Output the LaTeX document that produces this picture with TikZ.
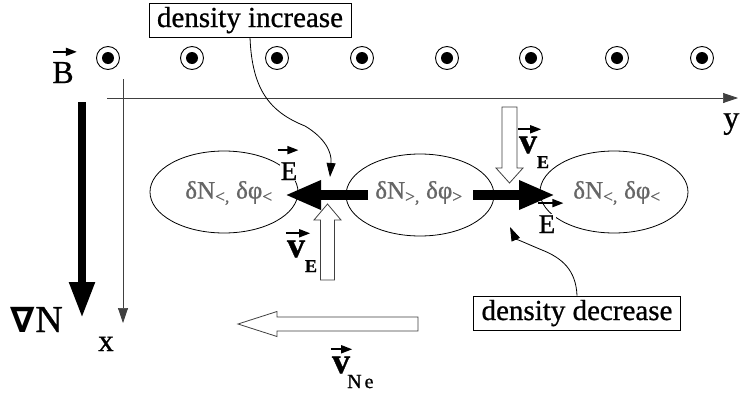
\documentclass[tikz,border=0pt]{standalone}
\usepackage{fontspec}
\setmainfont{Liberation Serif}[RawFeature={embolden=0.8}]
\newfontfamily\dejavu{DejaVu Sans}
\usetikzlibrary{arrows.meta,shapes.geometric}
\tikzset{
  dotc/.style={circle, draw, line width=0.9pt, minimum size=23pt, inner sep=0pt},
  ell/.style={ellipse, draw, line width=0.8pt, minimum width=148pt, minimum height=82pt, inner sep=0pt},
  eltext/.style={font=\fontsize{25}{27}\selectfont, text=black!60, inner sep=1pt},
  lbl/.style={inner sep=0pt, font=\fontsize{#1}{#1}\selectfont},
  vlbl/.style={inner sep=0pt, font=\fontsize{#1}{#1}\selectfont\bfseries},
  boxlbl/.style={draw, line width=0.8pt, fill=white, font=\fontsize{29}{30}\selectfont,
    inner xsep=8pt, inner ysep=4pt, text height=20pt, text depth=6pt},
  vecarr/.style={line width=1.6pt, -{Triangle[length=11pt,width=8pt]}},
  axisarr/.style={line width=0.7pt, draw=black!75, -{Triangle[length=15pt,width=10pt]}},
  curvarr/.style={line width=0.8pt, -{Triangle[length=14pt,width=9pt]}},
  thickarr/.style={line width=10pt, -{Triangle[length=36pt,width=27pt]}},
  hollow/.style={draw=black!75, line width=0.8pt, fill=white},
}
\begin{document}
\begin{tikzpicture}[x=1pt,y=-1pt]
\fill[white] (0,0) rectangle (740,394);
\useasboundingbox (0,0) rectangle (740,394);

% magnetic field dots
\foreach \i/\xx in {1/108,2/192,3/277,4/362,5/447,6/531,7/617,8/702}{
  \node[dotc] (d\i) at (\xx,58) {};
  \fill (d\i.center) circle[radius=6pt];
}
\node[lbl=32, anchor=base] (B) at (63,83) {B};
\draw[vecarr] ([yshift=10pt,xshift=1pt]B.north west) -- ([yshift=10pt,xshift=3pt]B.north east);

% axes
\coordinate (ya0) at (107,98);
\coordinate (ya1) at (738,98);
\draw[axisarr] (ya0) -- (ya1);
\node[lbl=32, anchor=base east] (ylab) at (739.5,128) {y};
\coordinate (xa0) at (123,79);
\coordinate (xa1) at (123,323);
\draw[axisarr] (xa0) -- (xa1);
\node[lbl=31, anchor=base] (xlab) at (106,351) {x};

% density gradient
\coordinate (g0) at (82,102);
\coordinate (g1) at (82,318);
\draw[line width=8pt, -{Triangle[length=36pt,width=24pt]}] (g0) -- (g1);
\node[lbl=38, anchor=base east] (gradN) at (63,332) {{\dejavu\bfseries\fontsize{35}{35}\selectfont ∇}N};

% ellipses
\node[ell] (eL) at (224,192) {};
\node[ell] (eM) at (420,195) {};
\node[ell] (eR) at (614,192) {};
\node[eltext] (tL) at (229,193) {δN\textsubscript{<,} δφ\textsubscript{<}};
\node[eltext] (tM) at (419,193) {δN\textsubscript{>,} δφ\textsubscript{>}};
\node[eltext] (tR) at (617,193) {δN\textsubscript{<,} δφ\textsubscript{<}};

% E labels
\node[lbl=27, fill=white, inner sep=1pt, anchor=base] (EL) at (289,180) {E};
\draw[vecarr] ([yshift=11pt,xshift=-2pt]EL.north west) -- ([yshift=11pt]EL.north east);
\node[lbl=27, fill=white, inner sep=1pt, anchor=base] (ER) at (547,233) {E};
\draw[vecarr] ([yshift=11pt]ER.north west) -- ([yshift=11pt,xshift=7pt]ER.north east);

% thick black E arrows
\coordinate (ls) at (368,195);
\coordinate (lt) at (285,195);
\draw[thickarr] (ls) -- (lt);
\coordinate (rs) at (473,195);
\coordinate (rt) at (555,195);
\draw[thickarr] (rs) -- (rt);

% hollow v_E arrows
\draw[hollow] (320.5,280) -- (320.5,220) -- (314,220) -- (327.5,204) -- (341,220) -- (334.5,220) -- (334.5,280) -- cycle;
\draw[hollow] (502,107) -- (502,168) -- (496,168) -- (509.5,183) -- (523,168) -- (517,168) -- (517,107) -- cycle;
% hollow v_Ne arrow
\draw[hollow] (418,317) -- (277,317) -- (277,311.5) -- (238,324) -- (277,336.5) -- (277,331) -- (418,331) -- cycle;

% v labels
\node[vlbl=36, anchor=base] (vE1) at (296,257) {v};
\node[vlbl=18, anchor=base] (sE1) at (311,272) {E};
\draw[vecarr] ([yshift=7pt,xshift=-1pt]vE1.north west) -- ([yshift=7pt,xshift=5pt]vE1.north east);
\node[vlbl=36, anchor=base] (vE2) at (528,153) {v};
\node[vlbl=18, anchor=base] (sE2) at (543,168) {E};
\draw[vecarr] ([yshift=7pt,xshift=-1pt]vE2.north west) -- ([yshift=7pt,xshift=4pt]vE2.north east);
\node[vlbl=36, anchor=base] (vN) at (341,373) {v};
\node[lbl=20, anchor=base west] (sN) at (347,388) {N\hspace{3pt}e};
\draw[vecarr] ([yshift=7pt,xshift=-1pt]vN.north west) -- ([yshift=7pt,xshift=2pt]vN.north east);

% density boxes and pointers
\node[boxlbl] (inc) at (250,20) {density increase};
\coordinate (incT) at (330,177);
\draw[curvarr] (inc.south) .. controls (252,90) and (270,112) .. (305,126) .. controls (325,138) and (332,152) .. (incT);
\node[boxlbl] (dec) at (577,313) {density decrease};
\coordinate (decT) at (510,227);
\draw[curvarr] (dec.north) .. controls (576,270) and (562,258) .. (542,250) .. controls (525,243) and (515,238) .. (decT);
\end{tikzpicture}
\end{document}
